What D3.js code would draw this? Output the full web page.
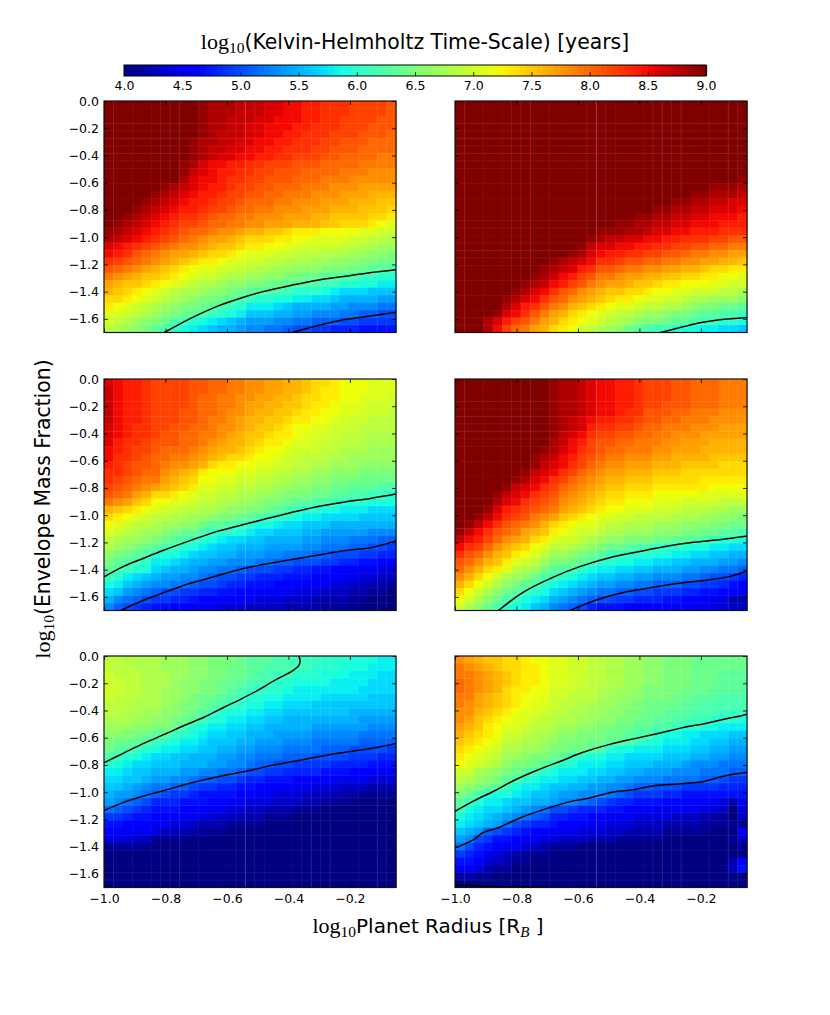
<!DOCTYPE html>
<html>
<head>
<meta charset="utf-8">
<script src="https://cdn.jsdelivr.net/npm/d3@7"></script>
<style>
  html, body { margin: 0; padding: 0; background: #fff; }
  svg { display: block; }
  text { font-family: "DejaVu Sans", sans-serif; fill: #000; }
  .math { font-family: "Liberation Serif", "DejaVu Serif", serif; }
  .cells { filter: blur(0.5px); }
</style>
</head>
<body>
<svg id="chart" width="830" height="1015"></svg>
<script>
// all grid values are log10(years) times ten
const hot = [90,90,90,90,90, 90,90,90,90,90, 90,90,90,90,90, 90,90,90,90,90, 90,90,90,90,90, 90,90,90,90,90, 90];
const cold = [40,40,40,40,40, 40,40,40,40,40, 40,40,40,40,40, 40,40,40,40,40, 40,40,40,40,40, 40,40,40,40,40, 40];

const gridA = [
  [90,90,90,90,90, 90,90,90,90,90, 89,88,88,88,87, 87,87,86,86,85, 85,84,84,83,83, 83,82,82,82,82, 81],
  [90,90,90,90,90, 90,90,90,90,90, 89,88,88,88,87, 87,87,86,86,85, 85,84,84,83,83, 83,82,82,82,82, 81],
  [90,90,90,90,90, 90,90,90,90,90, 89,88,88,87,87, 87,86,86,85,85, 85,84,84,83,83, 82,82,82,82,81, 81],
  [90,90,90,90,90, 90,90,90,90,90, 89,88,88,87,87, 86,86,85,85,85, 84,84,83,83,83, 82,82,82,81,81, 81],
  [90,90,90,90,90, 90,90,90,90,90, 89,88,87,87,87, 86,86,85,85,84, 84,83,83,83,82, 82,82,81,81,81, 80],
  [90,90,90,90,90, 90,90,90,90,89, 88,88,87,87,86, 86,85,85,84,84, 83,83,83,82,82, 81,81,81,80,80, 80],
  [90,90,90,90,90, 90,90,90,90,89, 88,87,87,86,86, 85,85,84,84,83, 83,83,82,82,81, 81,81,80,80,80, 80],
  [90,90,90,90,90, 90,90,90,90,89, 88,87,86,86,85, 85,84,84,83,83, 82,82,82,81,81, 80,80,80,80,79, 79],
  [90,90,90,90,90, 90,90,90,89,88, 86,85,85,84,84, 83,83,82,82,82, 81,81,81,80,80, 80,80,79,79,79, 79],
  [90,90,90,90,90, 90,90,90,89,87, 86,85,84,84,83, 83,82,82,81,81, 81,80,80,80,80, 79,79,79,78,78, 78],
  [90,90,90,90,90, 90,90,90,88,86, 85,85,84,83,83, 82,82,81,81,81, 80,80,80,79,79, 79,78,78,78,78, 78],
  [90,90,90,90,90, 90,89,88,87,86, 85,84,84,83,82, 82,81,81,80,80, 80,79,79,79,78, 78,78,77,77,77, 77],
  [90,90,90,90,90, 89,88,87,86,85, 84,84,83,82,82, 81,81,80,80,79, 79,79,78,78,78, 77,77,77,76,76, 76],
  [90,90,90,90,89, 88,87,86,85,84, 84,83,82,82,81, 80,80,80,79,79, 78,78,78,77,77, 77,76,76,76,75, 75],
  [90,90,90,89,88, 87,86,85,84,84, 83,82,82,81,80, 80,79,79,78,78, 78,77,77,77,76, 76,76,75,75,75, 74],
  [90,90,89,88,87, 86,85,84,83,83, 82,81,80,80,79, 79,78,78,78,77, 77,77,76,76,75, 75,75,75,74,74, 73],
  [90,89,88,87,86, 85,84,83,82,82, 81,80,80,79,79, 78,78,77,77,77, 76,76,76,75,75, 74,74,74,73,72, 71],
  [89,88,87,86,85, 84,83,82,81,80, 80,79,78,78,77, 76,76,75,75,74, 73,73,73,72,72, 72,72,71,71,70, 70],
  [88,87,86,85,84, 83,82,81,80,79, 78,77,77,76,75, 74,74,74,73,73, 72,72,71,71,71, 71,70,70,69,69, 68],
  [86,85,84,83,82, 81,80,79,78,78, 77,76,75,75,74, 73,73,72,72,71, 71,70,70,70,70, 69,69,68,68,67, 67],
  [85,84,83,81,80, 79,78,77,77,76, 75,74,74,73,72, 71,71,71,70,70, 69,69,69,68,68, 68,67,67,66,66, 65],
  [83,82,81,80,79, 78,77,76,75,74, 73,73,72,71,71, 70,70,69,69,68, 68,68,67,67,66, 66,66,65,65,64, 64],
  [81,80,79,78,77, 76,75,74,73,72, 71,71,70,70,69, 69,68,68,67,67, 66,66,66,65,65, 65,64,64,63,63, 62],
  [79,78,77,76,75, 75,74,73,72,71, 70,70,69,68,68, 67,67,66,66,65, 65,64,64,63,63, 62,62,61,61,60, 60],
  [77,76,75,75,74, 73,72,71,70,69, 68,68,67,66,66, 65,65,64,64,63, 63,62,62,61,61, 60,60,59,59,58, 58],
  [76,75,74,73,72, 71,70,69,68,68, 67,66,66,65,64, 63,63,62,62,61, 60,60,60,59,58, 57,57,57,56,56, 56],
  [74,74,73,72,71, 70,69,68,67,66, 65,65,64,63,62, 61,60,60,59,59, 58,58,57,57,56, 55,55,55,55,54, 54],
  [73,72,71,70,69, 68,67,66,65,65, 64,63,62,61,60, 58,58,58,57,56, 55,55,55,55,54, 54,53,53,53,52, 52],
  [71,71,70,69,68, 67,66,65,64,63, 62,61,60,59,58, 56,56,56,55,55, 54,54,53,53,53, 52,52,51,51,50, 50],
  [70,69,68,67,66, 65,64,62,61,60, 59,58,57,56,55, 54,54,54,53,53, 52,52,51,51,51, 50,50,49,49,49, 49],
  [69,68,67,66,65, 63,62,60,59,58, 57,56,55,55,54, 53,53,52,52,51, 50,50,49,49,48, 48,48,47,47,47, 47]
];

const gridB = [
  hot, hot, hot, hot, hot, hot, hot, hot, hot, hot,
  [90,90,90,90,90, 90,90,90,90,90, 90,90,90,90,90, 90,90,90,90,90, 90,90,90,90,90, 90,90,90,90,90, 89],
  [90,90,90,90,90, 90,90,90,90,90, 90,90,90,90,90, 90,90,90,90,90, 90,90,90,90,90, 90,90,89,89,89, 88],
  [90,90,90,90,90, 90,90,90,90,90, 90,90,90,90,90, 90,90,90,90,90, 90,90,90,90,90, 89,89,88,88,88, 87],
  [90,90,90,90,90, 90,90,90,90,90, 90,90,90,90,90, 90,90,90,90,90, 90,90,90,89,89, 88,88,87,87,86, 86],
  [90,90,90,90,90, 90,90,90,90,90, 90,90,90,90,90, 90,90,90,90,90, 90,89,89,88,88, 87,87,86,86,86, 85],
  [90,90,90,90,90, 90,90,90,90,90, 90,90,90,90,90, 90,90,90,90,89, 89,88,88,87,87, 86,86,85,85,85, 84],
  [90,90,90,90,90, 90,90,90,90,90, 90,90,90,90,90, 90,90,89,89,88, 88,87,87,86,86, 85,85,85,84,84, 84],
  [90,90,90,90,90, 90,90,90,90,90, 90,90,90,90,90, 89,89,89,88,88, 87,86,86,85,85, 84,84,84,83,83, 83],
  [90,90,90,90,90, 90,90,90,90,90, 90,90,90,90,89, 88,87,87,86,86, 85,85,84,84,83, 83,83,82,82,81, 81],
  [90,90,90,90,90, 90,90,90,90,90, 90,90,90,89,87, 86,86,85,85,84, 84,83,83,82,82, 81,81,80,80,79, 79],
  [90,90,90,90,90, 90,90,90,90,90, 90,90,89,88,86, 85,84,84,83,83, 82,82,81,81,80, 79,79,78,78,77, 77],
  [90,90,90,90,90, 90,90,90,90,90, 89,88,87,86,85, 83,83,82,81,81, 80,80,79,79,78, 78,77,77,76,76, 75],
  [90,90,90,90,90, 90,90,90,90,89, 88,87,86,84,83, 81,81,80,79,79, 78,78,77,77,76, 76,75,74,74,73, 73],
  [90,90,90,90,90, 90,90,90,89,88, 87,85,84,82,81, 79,79,78,77,77, 76,76,75,75,74, 74,73,73,72,72, 71],
  [90,90,90,90,90, 90,90,89,88,87, 85,84,82,81,79, 78,77,77,76,75, 75,74,73,73,72, 72,72,71,71,70, 70],
  [90,90,90,90,90, 90,89,88,86,85, 83,81,80,78,77, 76,75,75,74,74, 73,72,72,71,71, 70,70,70,69,69, 68],
  [90,90,90,90,90, 89,88,86,85,83, 81,80,78,77,76, 75,74,73,73,72, 71,71,70,70,69, 68,68,67,67,67, 66],
  [90,90,90,90,90, 88,86,84,83,81, 79,78,76,75,74, 73,72,71,71,70, 69,69,68,68,67, 66,65,65,64,64, 63],
  [90,90,90,90,89, 86,85,83,81,79, 77,76,74,73,72, 71,70,69,69,68, 67,67,66,65,65, 64,63,63,62,62, 61],
  [90,90,90,88,86, 84,82,81,79,77, 76,74,73,72,71, 70,69,68,67,66, 65,65,64,63,63, 62,61,61,60,60, 59],
  [90,90,90,88,85, 82,80,79,77,76, 74,73,72,70,69, 68,67,66,64,63, 62,61,61,60,59, 59,58,58,57,57, 56]
];

const gridC = [
  [86,85,84,84,83, 82,82,82,82,81, 81,80,80,79,79, 78,78,77,77,76, 76,75,74,74,73, 72,72,72,71,71, 71],
  [87,85,84,84,83, 82,82,82,82,81, 81,80,80,79,79, 78,78,77,77,76, 76,75,74,73,73, 72,72,72,71,71, 71],
  [87,85,84,84,83, 82,82,82,82,81, 80,80,79,79,78, 78,77,77,76,76, 75,74,74,73,73, 72,72,71,71,71, 70],
  [87,85,84,84,83, 82,82,82,82,81, 80,80,79,79,78, 77,77,76,76,75, 75,74,73,73,72, 71,71,71,70,70, 70],
  [87,85,84,84,83, 82,82,82,81,81, 80,80,79,78,78, 77,76,76,75,75, 74,73,73,72,72, 71,71,70,70,70, 69],
  [87,85,84,84,83, 82,82,82,81,81, 80,79,79,78,77, 76,76,75,75,74, 73,73,72,72,71, 70,70,70,69,69, 69],
  [86,85,84,83,83, 82,82,81,81,80, 80,79,78,78,77, 76,75,75,74,73, 72,72,71,71,70, 70,70,69,69,69, 69],
  [86,85,84,83,83, 82,81,81,80,80, 79,79,78,77,76, 75,75,74,73,73, 72,71,71,70,70, 69,69,69,68,68, 68],
  [86,84,83,83,82, 81,81,81,80,80, 79,78,77,76,76, 75,74,73,73,72, 71,71,70,70,69, 69,69,68,68,68, 68],
  [85,84,83,82,82, 81,80,80,80,79, 78,77,76,76,75, 74,73,72,72,71, 70,70,70,69,69, 68,68,68,67,67, 67],
  [85,83,83,82,81, 80,80,79,79,78, 77,76,75,74,74, 73,72,72,71,70, 70,69,69,69,68, 68,67,67,67,67, 67],
  [84,83,82,81,81, 80,79,78,78,77, 76,74,73,73,72, 72,71,71,70,70, 69,69,68,68,67, 67,67,66,66,66, 66],
  [83,83,82,81,80, 80,78,77,76,75, 73,72,72,72,71, 71,70,70,69,69, 68,68,67,67,66, 66,66,65,65,65, 65],
  [83,82,81,80,79, 79,77,76,75,74, 72,72,71,71,70, 70,69,69,68,68, 67,67,66,66,65, 65,65,64,64,64, 64],
  [82,81,80,79,78, 77,76,75,74,73, 71,71,70,70,69, 69,68,68,67,67, 66,66,65,65,64, 64,63,63,63,62, 62],
  [81,80,79,77,76, 74,74,73,72,71, 70,70,69,69,68, 68,67,67,66,65, 65,65,64,64,63, 63,62,62,61,61, 60],
  [79,78,77,75,74, 72,72,71,71,70, 69,69,68,68,67, 67,66,65,65,64, 63,63,62,62,61, 60,60,60,59,59, 59],
  [76,75,74,73,72, 71,70,70,69,69, 68,68,67,66,66, 65,65,64,63,62, 61,60,60,59,59, 58,58,58,57,57, 57],
  [74,73,72,71,70, 69,69,68,68,67, 67,66,65,65,64, 63,62,61,60,60, 59,58,58,57,57, 57,57,56,56,56, 56],
  [72,71,70,69,69, 68,67,67,66,66, 64,63,63,62,61, 60,59,59,58,57, 57,56,56,56,55, 55,55,55,55,55, 55],
  [71,70,69,68,67, 67,66,65,64,64, 62,61,60,60,59, 58,57,57,56,56, 56,55,55,54,54, 54,54,54,53,53, 53],
  [69,68,67,67,66, 65,64,63,62,61, 60,59,58,57,57, 56,56,55,55,55, 55,54,54,53,53, 53,52,52,52,51, 51],
  [68,67,66,65,64, 63,62,61,60,59, 58,57,56,56,55, 55,55,54,54,54, 54,53,53,52,52, 52,51,51,50,50, 49],
  [66,65,64,63,62, 60,59,59,58,57, 56,56,55,55,54, 54,54,53,53,52, 52,52,51,51,50, 50,50,49,49,48, 48],
  [65,63,62,61,60, 58,58,57,56,55, 55,54,54,53,53, 53,52,52,51,51, 50,50,50,49,49, 48,48,47,47,46, 46],
  [63,62,61,60,59, 57,56,55,55,54, 53,53,52,52,51, 50,50,50,49,49, 48,48,47,47,46, 46,45,45,45,44, 44],
  [61,60,58,57,56, 55,54,54,53,53, 52,51,50,50,49, 49,48,48,48,47, 47,47,46,46,46, 45,45,44,44,43, 43],
  [59,58,56,55,54, 53,53,52,52,51, 50,50,49,48,48, 47,47,47,46,46, 46,45,45,45,44, 44,43,43,42,42, 41],
  [57,56,54,53,52, 51,50,50,49,49, 48,48,47,47,46, 46,46,45,45,45, 44,44,44,43,43, 43,42,42,41,41, 40],
  [55,53,52,51,50, 49,49,48,48,47, 46,46,46,45,45, 45,44,44,44,43, 43,43,42,42,42, 42,41,41,40,40, 40],
  [53,51,50,49,48, 47,47,46,46,45, 45,45,44,44,44, 43,43,43,43,42, 42,42,42,41,41, 41,41,40,40,40, 40]
];

const gridD = [
  [90,90,90,90,90, 90,90,90,90,90, 89,88,88,87,86, 85,85,84,84,83, 82,82,82,81,81, 80,80,80,79,79, 79],
  [90,90,90,90,90, 90,90,90,90,90, 89,88,88,87,86, 85,85,84,84,83, 82,82,82,81,81, 80,80,80,79,79, 79],
  [90,90,90,90,90, 90,90,90,90,90, 89,88,88,87,86, 85,85,84,84,83, 82,82,82,81,81, 80,80,80,79,79, 79],
  [90,90,90,90,90, 90,90,90,90,90, 89,88,88,87,86, 85,85,84,84,83, 82,82,81,81,81, 80,80,80,79,79, 79],
  [90,90,90,90,90, 90,90,90,90,90, 89,88,88,87,86, 85,85,84,83,83, 81,81,81,80,80, 79,79,79,78,78, 78],
  [90,90,90,90,90, 90,90,90,90,90, 89,88,87,86,85, 84,84,83,83,82, 81,81,80,80,79, 79,79,78,78,78, 78],
  [90,90,90,90,90, 90,90,90,90,90, 89,88,87,86,84, 83,83,82,82,81, 80,80,79,79,79, 78,78,78,77,77, 77],
  [90,90,90,90,90, 90,90,90,90,90, 89,87,86,85,83, 82,82,81,81,80, 80,79,79,78,78, 78,77,77,77,77, 77],
  [90,90,90,90,90, 90,90,90,90,90, 88,87,85,84,82, 81,81,80,80,79, 79,79,78,78,77, 77,77,76,76,76, 76],
  [90,90,90,90,90, 90,90,90,90,89, 88,86,85,83,82, 81,80,80,79,79, 79,78,78,77,77, 77,76,76,76,76, 76],
  [90,90,90,90,90, 90,90,90,89,88, 87,85,84,82,81, 80,79,79,78,78, 78,77,77,76,76, 76,76,75,75,75, 75],
  [90,90,90,90,90, 90,90,90,89,87, 86,85,83,82,80, 79,78,78,77,77, 77,76,76,76,75, 75,75,75,74,74, 74],
  [90,90,90,90,90, 90,90,89,87,86, 85,83,82,80,79, 78,77,77,76,76, 76,75,75,75,74, 74,74,74,74,74, 74],
  [90,90,90,90,90, 90,89,88,86,85, 83,82,80,79,78, 77,76,76,75,75, 75,74,74,74,74, 74,73,73,73,73, 73],
  [90,90,90,90,90, 89,87,86,85,83, 82,80,79,78,77, 76,75,75,74,74, 74,73,73,73,73, 73,73,72,72,72, 72],
  [90,90,90,90,89, 87,86,85,83,82, 81,79,78,77,76, 75,74,74,73,73, 73,72,72,72,72, 72,71,71,71,71, 71],
  [90,90,90,90,88, 86,85,83,82,81, 80,78,77,76,75, 74,73,73,72,72, 72,71,71,71,70, 70,70,70,69,69, 69],
  [90,90,90,89,86, 84,83,82,81,80, 79,77,76,75,74, 73,72,72,71,71, 71,70,70,70,69, 69,69,68,68,67, 67],
  [90,90,89,87,85, 83,82,81,79,78, 77,75,74,73,72, 71,71,70,70,69, 69,69,69,68,68, 68,67,67,66,66, 65],
  [90,89,87,85,83, 81,80,79,78,76, 74,73,72,71,71, 70,69,69,68,68, 68,67,67,67,66, 66,66,65,65,64, 64],
  [89,87,85,83,81, 80,79,77,76,75, 73,72,71,70,70, 69,68,68,67,67, 67,66,66,66,65, 65,64,64,63,63, 62],
  [87,85,84,82,80, 78,77,76,74,73, 71,70,70,69,68, 67,66,66,65,65, 65,64,64,63,63, 62,62,61,60,60, 59],
  [85,83,82,80,78, 76,75,74,72,71, 69,69,68,67,66, 65,64,64,63,62, 62,61,60,60,60, 59,59,58,58,57, 57],
  [83,81,80,78,76, 75,73,72,71,69, 67,67,66,65,64, 63,61,61,60,60, 60,59,59,58,58, 57,57,56,56,55, 55],
  [81,80,78,76,75, 73,71,70,69,67, 65,65,64,63,62, 60,60,59,59,58, 58,57,57,56,56, 55,55,55,54,54, 53],
  [80,78,76,74,73, 71,69,68,67,65, 63,62,62,60,59, 58,58,57,57,56, 56,55,55,55,54, 54,53,53,52,52, 51],
  [78,76,74,72,70, 68,67,66,64,62, 61,60,59,58,57, 56,56,55,55,54, 54,53,53,53,52, 52,51,50,50,49, 48],
  [76,74,72,70,68, 66,65,63,62,60, 59,58,57,56,55, 54,54,53,53,52, 52,51,51,51,50, 50,49,49,48,47, 46],
  [74,72,70,68,66, 64,63,61,60,59, 57,56,55,54,53, 52,52,51,51,50, 50,49,49,49,48, 48,47,47,46,46, 45],
  [72,70,68,66,64, 62,61,59,58,57, 55,54,53,52,51, 50,50,49,49,48, 48,48,47,47,46, 46,45,45,44,42, 42],
  [70,68,66,64,62, 60,59,58,56,55, 53,52,51,50,48, 47,47,47,46,46, 46,46,46,45,45, 45,45,44,44,43, 43]
];

const gridE = [
  [69,69,68,68,68, 68,67,67,67,66, 66,65,65,65,64, 63,63,63,62,62, 61,61,61,60,60, 60,59,59,59,58, 58],
  [69,69,69,68,68, 68,67,67,67,66, 66,65,65,64,64, 63,63,62,62,62, 61,61,60,60,60, 59,59,59,58,58, 58],
  [70,69,69,69,68, 68,68,67,67,66, 66,65,65,64,64, 63,62,62,61,61, 60,60,60,59,59, 59,58,58,58,57, 57],
  [70,70,69,69,68, 68,68,67,66,66, 65,65,64,64,63, 62,62,61,60,60, 59,59,59,59,58, 58,58,58,57,57, 57],
  [70,70,69,69,68, 68,67,67,66,66, 65,65,64,63,62, 61,60,60,60,59, 58,58,58,58,58, 58,58,57,57,57, 57],
  [70,69,69,69,68, 68,67,67,66,65, 64,64,63,62,61, 60,60,59,59,58, 58,58,58,57,57, 57,57,57,56,56, 56],
  [69,69,69,68,68, 68,67,66,65,65, 64,63,62,61,60, 59,59,58,58,57, 57,57,56,56,56, 56,56,56,56,56, 56],
  [69,69,68,68,67, 67,66,66,65,64, 63,61,60,59,59, 58,58,57,57,56, 56,56,56,56,56, 56,55,55,55,55, 55],
  [68,68,68,67,67, 66,66,65,64,63, 61,60,59,58,58, 57,57,56,56,55, 55,55,55,55,55, 55,55,54,54,54, 54],
  [67,67,67,66,66, 65,65,64,62,60, 59,58,58,57,57, 56,56,55,55,55, 55,55,54,54,54, 54,54,54,53,53, 53],
  [66,66,65,65,64, 63,63,61,60,59, 58,57,57,56,56, 55,55,55,54,54, 54,54,53,53,53, 53,53,52,52,52, 52],
  [65,64,64,63,62, 61,60,59,58,58, 57,56,56,56,55, 55,54,54,54,53, 53,53,52,52,52, 52,52,51,51,51, 51],
  [64,63,62,61,60, 59,58,58,57,57, 56,56,55,55,54, 54,53,53,53,52, 52,52,52,51,51, 51,50,50,50,50, 49],
  [62,61,60,59,58, 57,57,56,56,55, 55,55,54,54,53, 53,52,52,52,51, 51,51,50,50,50, 50,49,49,49,48, 48],
  [60,59,58,57,57, 56,56,56,55,55, 55,54,54,53,53, 52,51,51,50,50, 49,49,49,49,48, 48,48,48,47,47, 47],
  [58,58,57,56,56, 55,55,55,54,54, 53,53,52,52,51, 50,50,49,49,48, 48,48,48,47,47, 47,46,46,46,45, 45],
  [57,57,56,56,55, 54,54,53,53,52, 51,51,50,50,49, 48,48,47,47,47, 46,46,46,46,45, 45,45,45,44,44, 44],
  [56,56,55,54,53, 52,52,51,51,50, 49,49,48,48,47, 47,46,46,46,45, 45,45,44,44,44, 43,43,43,42,42, 42],
  [55,54,54,53,52, 51,50,49,49,48, 47,47,47,47,46, 46,45,45,44,44, 44,43,43,43,42, 42,42,41,41,41, 41],
  [54,53,52,51,50, 48,48,48,47,47, 47,46,46,45,45, 44,44,44,43,43, 43,42,42,41,41, 41,40,40,40,40, 40],
  [52,51,50,49,48, 47,47,47,46,46, 46,45,45,44,44, 43,43,42,42,42, 41,41,41,40,40, 40,40,40,40,40, 40],
  [49,49,48,47,47, 46,46,46,45,45, 44,44,43,43,42, 42,42,41,41,41, 40,40,40,40,40, 40,40,40,40,40, 40],
  [47,47,46,46,46, 45,45,44,44,43, 42,42,42,41,41, 41,41,40,40,40, 40,40,40,40,40, 40,40,40,40,40, 40],
  [46,46,45,45,45, 44,43,43,42,42, 41,41,41,40,40, 40,40,40,40,40, 40,40,40,40,40, 40,40,40,40,40, 40],
  [44,44,44,43,43, 41,41,41,41,40, 40,40,40,40,40, 40,40,40,40,40, 40,40,40,40,40, 40,40,40,40,40, 40],
  [41,41,41,41,41, 40,40,40,40,40, 40,40,40,40,40, 40,40,40,40,40, 40,40,40,40,40, 40,40,40,40,40, 40],
  cold, cold, cold, cold, cold
];

const gridF = [
  [78,77,76,75,75, 74,74,73,72,72, 71,71,70,70,69, 69,68,68,67,67, 66,66,65,65,65, 64,64,64,64,64, 64],
  [79,78,77,76,75, 74,74,73,73,72, 71,71,70,70,69, 69,68,68,67,67, 66,66,65,65,65, 64,64,64,64,64, 64],
  [79,79,78,77,76, 75,74,73,73,72, 71,71,70,70,69, 69,68,68,67,67, 66,66,65,65,65, 64,64,64,63,63, 63],
  [80,79,78,77,76, 75,74,73,73,72, 71,71,70,70,69, 69,68,68,67,67, 66,66,65,65,65, 64,64,64,63,63, 63],
  [80,79,78,77,76, 74,73,73,72,72, 70,70,70,69,69, 68,68,67,67,66, 65,65,65,65,64, 64,64,63,63,63, 63],
  [79,79,77,76,75, 74,73,72,72,71, 70,70,69,69,69, 68,67,67,66,66, 65,65,65,64,64, 63,63,63,62,62, 62],
  [79,78,77,76,75, 74,73,72,71,71, 70,69,69,68,68, 67,67,66,66,65, 64,64,64,64,63, 63,62,62,62,62, 62],
  [78,78,76,75,74, 73,72,71,71,70, 69,69,68,68,67, 67,66,66,65,65, 64,64,63,63,63, 62,62,62,61,61, 61],
  [78,77,75,74,73, 72,71,71,70,69, 69,68,68,67,67, 66,66,65,65,64, 64,63,63,62,62, 61,61,60,60,60, 59],
  [77,76,75,73,72, 71,71,70,69,69, 68,67,67,66,66, 65,65,64,64,63, 63,62,62,61,60, 60,59,59,58,58, 58],
  [76,75,74,73,72, 70,70,69,68,68, 67,66,66,65,65, 65,64,64,63,62, 62,60,59,59,58, 58,57,57,57,56, 56],
  [75,74,73,72,71, 69,69,68,68,67, 66,65,65,65,64, 64,63,63,62,61, 60,59,58,58,58, 57,57,56,56,55, 55],
  [74,73,72,71,70, 68,68,67,67,66, 65,65,64,64,63, 62,60,59,59,58, 58,58,57,57,57, 56,56,55,55,54, 54],
  [73,72,71,70,69, 67,67,66,65,65, 64,63,61,60,59, 59,58,58,57,57, 57,57,56,56,56, 55,55,54,54,53, 53],
  [72,71,70,69,68, 66,65,65,64,63, 61,60,59,58,58, 58,57,57,56,56, 56,55,55,55,54, 53,53,53,52,52, 52],
  [70,70,68,67,66, 65,64,63,61,60, 59,58,58,58,57, 57,56,56,55,55, 54,54,54,53,53, 53,52,52,52,51, 51],
  [69,68,67,66,65, 63,62,60,59,58, 58,57,57,56,56, 55,55,54,54,53, 53,53,52,52,52, 52,51,51,50,49, 49],
  [67,66,65,64,63, 61,59,58,58,57, 56,56,55,55,54, 54,53,53,52,51, 51,50,50,50,49, 49,49,49,48,48, 48],
  [65,64,62,60,59, 59,58,57,56,56, 55,54,54,53,53, 53,52,51,50,49, 49,49,48,48,47, 47,47,47,47,47, 47],
  [63,61,60,58,58, 57,56,56,55,55, 54,53,53,52,51, 50,49,48,48,47, 47,47,46,46,46, 46,46,45,44,42, 45],
  [61,59,58,57,57, 56,55,54,53,52, 50,50,49,48,48, 48,47,47,46,46, 46,45,45,45,45, 45,44,44,43,40, 44],
  [59,58,57,56,55, 54,53,52,51,50, 48,48,47,47,46, 46,45,45,45,44, 44,44,44,43,43, 43,42,42,41,40, 43],
  [58,57,56,55,54, 52,50,49,48,48, 47,46,46,46,45, 45,44,44,44,43, 43,43,42,42,42, 42,41,41,41,41, 41],
  [56,55,54,51,50, 49,48,47,46,46, 45,45,45,44,44, 44,43,43,42,42, 42,42,41,41,41, 41,41,40,40,40, 45],
  [54,53,50,49,47, 47,46,45,45,44, 44,43,43,43,42, 42,42,41,41,41, 41,41,40,40,40, 40,40,40,40,41, 43],
  [52,50,48,47,46, 45,45,44,43,42, 41,41,41,40,40, 40,40,40,40,40, 40,40,40,40,40, 40,40,40,40,40, 41],
  [49,48,47,45,44, 43,42,41,41,41, 40,40,40,40,40, 40,40,40,40,40, 40,40,40,40,40, 40,40,40,40,40, 40],
  [47,47,46,44,43, 42,41,41,40,40, 40,40,40,40,40, 40,40,40,40,40, 40,40,40,40,40, 40,40,40,40,42, 46],
  [45,45,44,42,41, 41,40,40,40,40, 40,40,40,40,40, 40,40,40,40,40, 40,40,40,40,40, 40,40,40,40,43, 47],
  [42,42,41,41,40, 40,40,40,40,40, 40,40,40,40,40, 40,40,40,40,40, 40,40,40,40,40, 40,40,40,40,40, 40],
  cold
];

// contour lines: [log radius, log mass fraction]
const linesA = [
  [[-.804,-1.70],[-.718,-1.596],[-.632,-1.508],[-.556,-1.448],[-.479,-1.398],[-.393,-1.355],[-.307,-1.316],[-.221,-1.289],[-.136,-1.261],[-.05,-1.239]],
  [[-.388,-1.70],[-.307,-1.651],[-.221,-1.607],[-.133,-1.579],[-.05,-1.552]]
];
const linesB = [
  [[-.332,-1.70],[-.264,-1.662],[-.203,-1.629],[-.139,-1.607],[-.05,-1.59]]
];
const linesC = [
  [[-1,-1.453],[-.936,-1.376],[-.871,-1.316],[-.804,-1.256],[-.718,-1.185],[-.632,-1.119],[-.546,-1.069],[-.47,-1.025],[-.393,-.982],[-.307,-.938],[-.221,-.905],[-.133,-.877],[-.05,-.845]],
  [[-.945,-1.70],[-.893,-1.645],[-.825,-1.585],[-.739,-1.514],[-.654,-1.459],[-.568,-1.404],[-.479,-1.36],[-.393,-1.327],[-.307,-1.294],[-.221,-1.261],[-.133,-1.239],[-.05,-1.19]]
];
const linesD = [
  [[-.859,-1.70],[-.776,-1.563],[-.678,-1.453],[-.592,-1.376],[-.485,-1.305],[-.375,-1.256],[-.267,-1.212],[-.16,-1.185],[-.05,-1.152]],
  [[-.626,-1.70],[-.54,-1.623],[-.442,-1.563],[-.356,-1.53],[-.258,-1.497],[-.172,-1.475],[-.111,-1.453],[-.05,-1.409]]
];
const linesE = [
  [[-1,-.784],[-.936,-.713],[-.871,-.642],[-.804,-.576],[-.739,-.51],[-.675,-.45],[-.611,-.378],[-.556,-.318],[-.5,-.252],[-.442,-.175],[-.387,-.11],[-.366,-.069],[-.362,-.037],[-.366,0]],
  [[-1,-1.135],[-.936,-1.075],[-.871,-1.028],[-.804,-.987],[-.718,-.932],[-.611,-.877],[-.534,-.845],[-.448,-.801],[-.338,-.754],[-.234,-.713],[-.123,-.675],[-.05,-.642]]
];
const linesF = [
  [[-1,-1.141],[-.939,-1.064],[-.874,-.993],[-.81,-.916],[-.733,-.839],[-.657,-.773],[-.583,-.707],[-.494,-.647],[-.408,-.603],[-.332,-.565],[-.258,-.526],[-.182,-.494],[-.117,-.461],[-.068,-.439],[-.05,-.428]],
  [[-1,-1.409],[-.939,-1.349],[-.911,-1.3],[-.859,-1.261],[-.789,-1.19],[-.7,-1.119],[-.614,-1.064],[-.571,-1.047],[-.485,-.998],[-.421,-.982],[-.356,-.954],[-.267,-.938],[-.191,-.921],[-.117,-.877],[-.05,-.855]],
  [[-1,-1.68],[-.908,-1.69],[-.798,-1.695],[-.678,-1.70]]
];

const xTicks = [-1.0, -0.8, -0.6, -0.4, -0.2];
const yTicks = [0, -0.2, -0.4, -0.6, -0.8, -1.0, -1.2, -1.4, -1.6];
const barTicks = [4.0, 4.5, 5.0, 5.5, 6.0, 6.5, 7.0, 7.5, 8.0, 8.5, 9.0];
const barLevels = d3.range(4, 9, 0.05);

// seams of the original mesh, columns and rows where a faint light line shows
const seamCols = [1, 6, 7, 8, 14, 15, 16, 21, 22, 23, 24, 29, 30];
const seamRows = [3, 4, 5, 6, 7, 8, 16, 17, 19, 20, 21, 29, 30];

const panels = [
  { grid: gridA, lines: linesA, left: 104, top: 101, col: 0, row: 0 },
  { grid: gridB, lines: linesB, left: 455, top: 101, col: 1, row: 0 },
  { grid: gridC, lines: linesC, left: 104, top: 379, col: 0, row: 1 },
  { grid: gridD, lines: linesD, left: 455, top: 379, col: 1, row: 1 },
  { grid: gridE, lines: linesE, left: 104, top: 656, col: 0, row: 2 },
  { grid: gridF, lines: linesF, left: 455, top: 656, col: 1, row: 2 }
];
const innerWidth = 292;
const innerHeight = 231.5;

// matplotlib jet, one scale for each channel
const red = d3.scaleLinear().domain([0, 0.35, 0.66, 0.89, 1]).range([0, 0, 1, 1, 0.5]).clamp(true);
const green = d3.scaleLinear().domain([0, 0.125, 0.375, 0.64, 0.91, 1]).range([0, 0, 1, 1, 0, 0]).clamp(true);
const blue = d3.scaleLinear().domain([0, 0.11, 0.34, 0.65, 1]).range([0.5, 1, 1, 0, 0]).clamp(true);
const toUnit = d3.scaleLinear().domain([4, 9]).range([0, 1]).clamp(true);
const jet = v => {
  const t = toUnit(v);
  return d3.rgb(red(t) * 255, green(t) * 255, blue(t) * 255).formatRgb();
};

const svg = d3.select("#chart");
const xScale = d3.scaleLinear().domain([-1, -0.05]).range([0, innerWidth]);
const yScale = d3.scaleLinear().domain([0, -1.7]).range([0, innerHeight]);
const line = d3.line().x(d => xScale(d[0])).y(d => yScale(d[1])).curve(d3.curveCatmullRom);
const fmt = d3.format(".1f");

panels.forEach((p, i) => {
  const g = svg.append("g").attr("transform", `translate(${p.left},${p.top})`);
  const colBand = d3.scaleBand().domain(d3.range(31)).range([0, innerWidth]);
  const rowBand = d3.scaleBand().domain(d3.range(31)).range([0, innerHeight]);

  const cellGroup = g.append("g").attr("class", "cells");
  p.grid.forEach((cells, r) => {
    cellGroup.append("g").selectAll("rect").data(cells).join("rect")
      .attr("x", (d, c) => colBand(c))
      .attr("y", rowBand(r))
      .attr("width", colBand.bandwidth() + 0.5)
      .attr("height", rowBand.bandwidth() + 0.5)
      .attr("fill", d => jet(d / 10));
  });

  // faint mesh seams
  g.selectAll(".seam-col").data(seamCols).join("line")
    .attr("class", "seam-col")
    .attr("x1", d => colBand(d)).attr("x2", d => colBand(d))
    .attr("y1", 0).attr("y2", innerHeight)
    .attr("stroke", "#fff").attr("stroke-opacity", d => d === 15 ? 0.2 : 0.09);
  g.selectAll(".seam-row").data(seamRows).join("line")
    .attr("class", "seam-row")
    .attr("y1", d => rowBand(d)).attr("y2", d => rowBand(d))
    .attr("x1", 0).attr("x2", innerWidth)
    .attr("stroke", "#fff").attr("stroke-opacity", 0.07);

  svg.append("clipPath").attr("id", "clip" + i)
    .append("rect").attr("width", innerWidth).attr("height", innerHeight);
  g.append("g").attr("clip-path", `url(#clip${i})`)
    .selectAll("path").data(p.lines).join("path")
    .attr("d", line)
    .attr("fill", "none")
    .attr("stroke", "#000")
    .attr("stroke-width", 1.5);

  // ticks point inward on all four sides, labels only on the outer panels
  const bottom = d3.axisBottom(xScale).tickValues(xTicks).tickSize(-4).tickPadding(7)
    .tickFormat(p.row === 2 ? fmt : "");
  const top = d3.axisTop(xScale).tickValues(xTicks).tickSize(-4).tickFormat("");
  const left = d3.axisLeft(yScale).tickValues(yTicks).tickSize(-4).tickPadding(5)
    .tickFormat(p.col === 0 ? fmt : "");
  const right = d3.axisRight(yScale).tickValues(yTicks).tickSize(-4).tickFormat("");
  g.append("g").attr("transform", `translate(0,${innerHeight})`).call(bottom);
  g.append("g").call(top);
  g.append("g").call(left);
  g.append("g").attr("transform", `translate(${innerWidth},0)`).call(right);
  g.selectAll(".domain").remove();
  g.selectAll(".tick line").attr("stroke", "#000").attr("stroke-width", 0.8);
  g.selectAll(".tick text").filter(function() { return this.textContent === ""; }).remove();
  g.selectAll(".tick text").attr("font-size", 12.5).attr("font-family", "DejaVu Sans").attr("fill", "#000");

  g.append("rect")
    .attr("width", innerWidth).attr("height", innerHeight)
    .attr("fill", "none").attr("stroke", "#111").attr("stroke-width", 1.2);
});

// colour bar
const barScale = d3.scaleLinear().domain([4, 9]).range([124, 706]);
const barTop = 65, barHeight = 11;
const bar = svg.append("g");
bar.selectAll("rect").data(barLevels).join("rect")
  .attr("x", d => barScale(d))
  .attr("y", barTop)
  .attr("width", barScale(4.06) - barScale(4))
  .attr("height", barHeight)
  .attr("fill", d => jet(d + 0.025));
const barAxis = svg.append("g").attr("transform", `translate(0,${barTop + barHeight})`)
  .call(d3.axisBottom(barScale).tickValues(barTicks).tickSize(-4).tickPadding(5).tickFormat(fmt));
barAxis.select(".domain").remove();
barAxis.selectAll(".tick line").attr("stroke", "#000").attr("stroke-width", 0.8);
barAxis.selectAll(".tick text").attr("font-size", 12.5).attr("font-family", "DejaVu Sans").attr("fill", "#000");
svg.append("rect")
  .attr("x", 124).attr("y", barTop).attr("width", 582).attr("height", barHeight)
  .attr("fill", "none").attr("stroke", "#000").attr("stroke-width", 1);

// titles, log10 is set in a serif face like the original mathtext
const title = svg.append("text").attr("x", 415).attr("y", 49).attr("text-anchor", "middle").attr("font-size", 20.4);
title.append("tspan").attr("class", "math").attr("font-size", 22).text("log");
title.append("tspan").attr("class", "math").attr("font-size", 15.5).attr("dy", 4).text("10");
title.append("tspan").attr("dy", -4).text("(Kelvin-Helmholtz Time-Scale) [years]");

const ylabel = svg.append("text")
  .attr("transform", "translate(50,509) rotate(-90)")
  .attr("text-anchor", "middle").attr("font-size", 20.4);
ylabel.append("tspan").attr("class", "math").attr("font-size", 22).text("log");
ylabel.append("tspan").attr("class", "math").attr("font-size", 15.5).attr("dy", 4).text("10");
ylabel.append("tspan").attr("dy", -4).text("(Envelope Mass Fraction)");

const xlabel = svg.append("text").attr("x", 428).attr("y", 933).attr("text-anchor", "middle").attr("font-size", 20);
xlabel.append("tspan").attr("class", "math").attr("font-size", 22).text("log");
xlabel.append("tspan").attr("class", "math").attr("font-size", 15.5).attr("dy", 4).text("10");
xlabel.append("tspan").attr("dy", -4).text("Planet Radius [R");
xlabel.append("tspan").attr("class", "math").attr("font-size", 15).attr("font-style", "italic").attr("dy", 4).text("B");
xlabel.append("tspan").attr("dy", -4).text(" ]");
</script>
</body>
</html>
